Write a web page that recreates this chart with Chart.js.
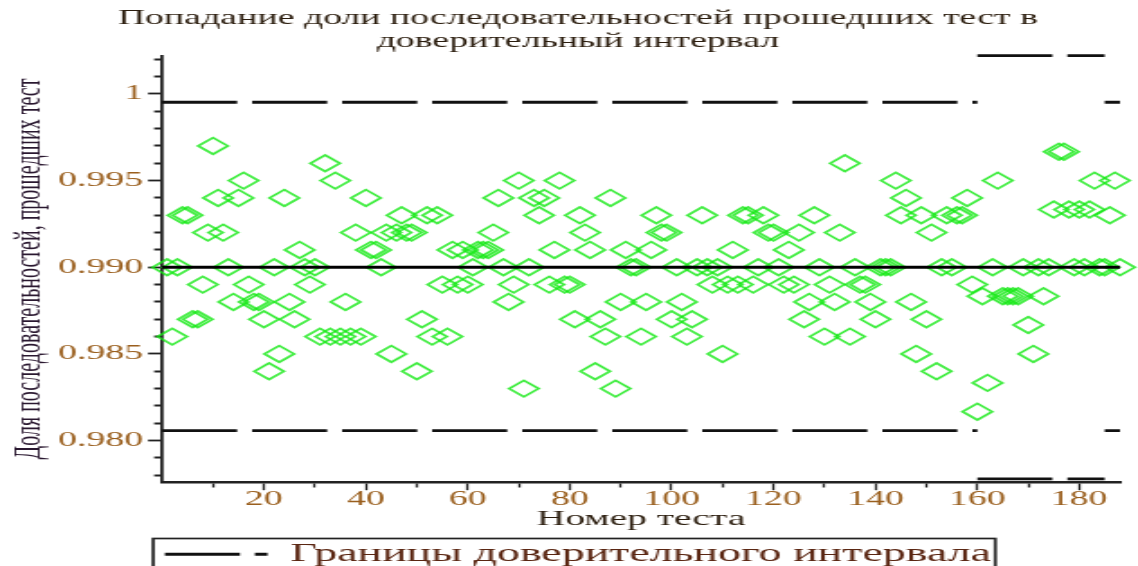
<!DOCTYPE html>
<html>
<head>
<meta charset="utf-8">
<script src="https://cdn.jsdelivr.net/npm/chart.js@4"></script>
<style>
  html, body { margin: 0; padding: 0; background: #fff; overflow: hidden; }
</style>
</head>
<body>
<!-- drawn narrow and stretched wide, like the original picture -->
<canvas id="chart" width="632" height="566" style="width:1138px;height:566px"></canvas>
<script>
// share of sequences that passed each test (tests 160-185 were run on 600 sequences)
const passRate = [
  0.990, 0.986, 0.990, 0.993, 0.993, 0.987, 0.987, 0.989, 0.992, 0.997,
  0.994, 0.992, 0.990, 0.988, 0.994, 0.995, 0.989, 0.988, 0.988, 0.987,
  0.984, 0.990, 0.985, 0.994, 0.988, 0.987, 0.991, 0.990, 0.989, 0.990,
  0.986, 0.996, 0.986, 0.995, 0.986, 0.988, 0.986, 0.992, 0.986, 0.994,
  0.991, 0.991, 0.990, 0.992, 0.985, 0.992, 0.993, 0.992, 0.992, 0.984,
  0.987, 0.993, 0.986, 0.993, 0.989, 0.986, 0.991, 0.989, 0.991, 0.989,
  0.990, 0.991, 0.991, 0.991, 0.992, 0.994, 0.990, 0.988, 0.989, 0.995,
  0.983, 0.990, 0.994, 0.993, 0.994, 0.989, 0.991, 0.995, 0.989, 0.989,
  0.987, 0.993, 0.992, 0.991, 0.984, 0.987, 0.986, 0.994, 0.983, 0.988,
  0.991, 0.990, 0.990, 0.986, 0.988, 0.991, 0.993, 0.992, 0.992, 0.987,
  0.990, 0.988, 0.986, 0.987, 0.990, 0.993, 0.990, 0.989, 0.990, 0.985,
  0.989, 0.991, 0.989, 0.993, 0.993, 0.989, 0.990, 0.993, 0.992, 0.992,
  0.990, 0.989, 0.991, 0.989, 0.992, 0.987, 0.988, 0.993, 0.990, 0.986,
  0.989, 0.988, 0.992, 0.996, 0.986, 0.990, 0.989, 0.989, 0.988, 0.987,
  0.990, 0.990, 0.990, 0.995, 0.993, 0.994, 0.988, 0.985, 0.993, 0.987,
  0.992, 0.984, 0.990, 0.993, 0.990, 0.993, 0.993, 0.994, 0.989, 0.98167,
  0.98833, 0.98333, 0.99, 0.995, 0.98833, 0.98833, 0.98833, 0.98833, 0.99, 0.98667,
  0.985, 0.99, 0.98833, 0.99, 0.99333, 0.99667, 0.99667, 0.99333, 0.99, 0.99333,
  0.99, 0.99333, 0.995, 0.99, 0.99, 0.993, 0.995, 0.99
];
const testNumbers = passRate.map((v, i) => i + 1);

// confidence interval: x where the bound changes, and its level on each piece
const boundBreaks = [0, 160, 185, 188];
const upperBound = [0.99952, 1.00221, 0.99952];
const lowerBound = [0.98058, 0.97779, 0.98058];
const expectedRate = 0.99;

const xLabelTicks = [20, 40, 60, 80, 100, 120, 140, 160, 180];
const yTickValues = [0.980, 0.985, 0.990, 0.995, 1];
const yTickTexts = ['0.980', '0.985', '0.990', '0.995', '1'];

const titleLines = ['Попадание доли последовательностей прошедших тест в', 'доверительный интервал'];
const xTitle = 'Номер теста';
const yTitle = 'Доля последовательностей, прошедших тест';
const boundLabel = 'Границы доверительного интервала';

const tickInk = '#9a5f1e';
const ink = '#2b1d0e';
const green = 'rgba(20, 232, 20, 0.8)';
const dash = [41.7, 8.3];

function boundPoints(levels) {
    const pts = [];
    levels.forEach((level, i) => {
        if (i > 0) pts.push({x: boundBreaks[i], y: null});
        pts.push({x: boundBreaks[i], y: level}, {x: boundBreaks[i + 1], y: level});
    });
    return pts;
}

//box round the legend
const legendFrame = {
    id: 'legendFrame',
    afterDraw(chart) {
        const box = chart.legend && chart.legend.legendHitBoxes[0];
        if (!box) return;
        const ctx = chart.ctx;
        ctx.save();
        ctx.strokeStyle = '#222';
        ctx.lineWidth = 1.7;
        ctx.strokeRect(box.left - 6.5, box.top - 3, box.width + 9, 60);
        ctx.restore();
    }
};

Chart.defaults.font.family = '"Liberation Serif", "Times New Roman", serif';

new Chart(document.getElementById('chart'), {
    type: 'scatter',
    data: {
        datasets: [{
            label: boundLabel,
            data: boundPoints(upperBound),
            showLine: true,
            borderColor: '#111',
            backgroundColor: '#111',
            borderWidth: 2.8,
            borderDash: dash,
            pointRadius: 0,
            clip: false
        }, {
            label: 'lower',
            data: boundPoints(lowerBound),
            showLine: true,
            borderColor: '#111',
            borderWidth: 2.8,
            borderDash: dash,
            pointRadius: 0,
            clip: false
        }, {
            label: 'center',
            data: [{x: 0, y: expectedRate}, {x: 188, y: expectedRate}],
            showLine: true,
            borderColor: '#000',
            borderWidth: 3,
            pointRadius: 0
        }, {
            label: 'tests',
            data: testNumbers.map((t, i) => ({x: t, y: passRate[i]})),
            pointStyle: 'rectRot',
            pointRadius: 8.2,
            pointBorderWidth: 1.8,
            borderColor: green,
            backgroundColor: 'rgba(0,0,0,0)',
            clip: false
        }]
    },
    options: {
        responsive: false,
        animation: false,
        devicePixelRatio: 1,
        layout: {padding: {left: 14, right: 4.2, top: 0, bottom: -11}},
        plugins: {
            title: {
                display: true,
                text: titleLines,
                color: ink,
                font: {size: 21, weight: 'normal', lineHeight: 1.1},
                padding: {top: 6.45, bottom: 3.15}
            },
            legend: {
                position: 'bottom',
                labels: {
                    usePointStyle: true,
                    pointStyleWidth: 57,
                    color: '#5a2612',
                    font: {size: 25.5},
                    padding: 5,
                    generateLabels: chart => {
                        const items = Chart.defaults.plugins.legend.labels.generateLabels(chart)
                            .filter(item => item.datasetIndex === 0);
                        items.forEach(item => {
                            item.pointStyle = 'line';
                            item.lineDash = dash;
                            item.lineWidth = 2.8;
                            item.strokeStyle = '#111';
                            item.fontColor = '#5a2612';
                        });
                        return items;
                    }
                }
            },
            tooltip: {enabled: false}
        },
        scales: {
            x: {
                type: 'linear',
                min: 0,
                max: 188,
                afterFit: scale => { scale.height = 54.3; },
                border: {color: '#222', width: 2.5},
                grid: {
                    drawOnChartArea: false,
                    tickLength: 8,
                    tickWidth: 1.3,
                    tickColor: '#222',
                    tickBorderDash: ctx => {
                        const v = ctx.tick ? ctx.tick.value : 0;
                        if (v === 0) return [0, 100];
                        return xLabelTicks.includes(v) ? [] : [4, 100];
                    }
                },
                ticks: {
                    stepSize: 10,
                    includeBounds: false,
                    autoSkip: false,
                    maxRotation: 0,
                    padding: -1,
                    color: tickInk,
                    font: {size: 21, lineHeight: 1},
                    callback: v => xLabelTicks.includes(v) ? String(v) : ''
                },
                title: {
                    display: true,
                    text: xTitle,
                    color: ink,
                    font: {size: 22, lineHeight: 1},
                    padding: {top: 0, bottom: 6}
                }
            },
            y: {
                type: 'linear',
                min: 0.9776,
                max: 1.0022,
                afterFit: scale => { scale.width = 76; },
                border: {color: '#222', width: 1.8},
                grid: {
                    drawOnChartArea: false,
                    tickLength: 7.8,
                    tickWidth: 1.8,
                    tickColor: '#222',
                    tickBorderDash: ctx => {
                        const k = ctx.tick ? Math.round(ctx.tick.value * 1000) : 1;
                        return k % 5 === 0 ? [] : [0, 3.4, 100];
                    }
                },
                ticks: {
                    stepSize: 0.001,
                    includeBounds: false,
                    autoSkip: false,
                    padding: 2.8,
                    color: tickInk,
                    font: {size: 21},
                    callback: v => {
                        const k = Math.round(v * 1000);
                        const idx = yTickValues.findIndex(t => Math.round(t * 1000) === k);
                        return idx >= 0 ? yTickTexts[idx] : '';
                    }
                },
                title: {
                    display: true,
                    text: yTitle,
                    color: '#2a1830',
                    font: {size: 20, lineHeight: 1.2},
                    padding: {top: -9.3}
                }
            }
        }
    },
    plugins: [legendFrame]
});
</script>
</body>
</html>
